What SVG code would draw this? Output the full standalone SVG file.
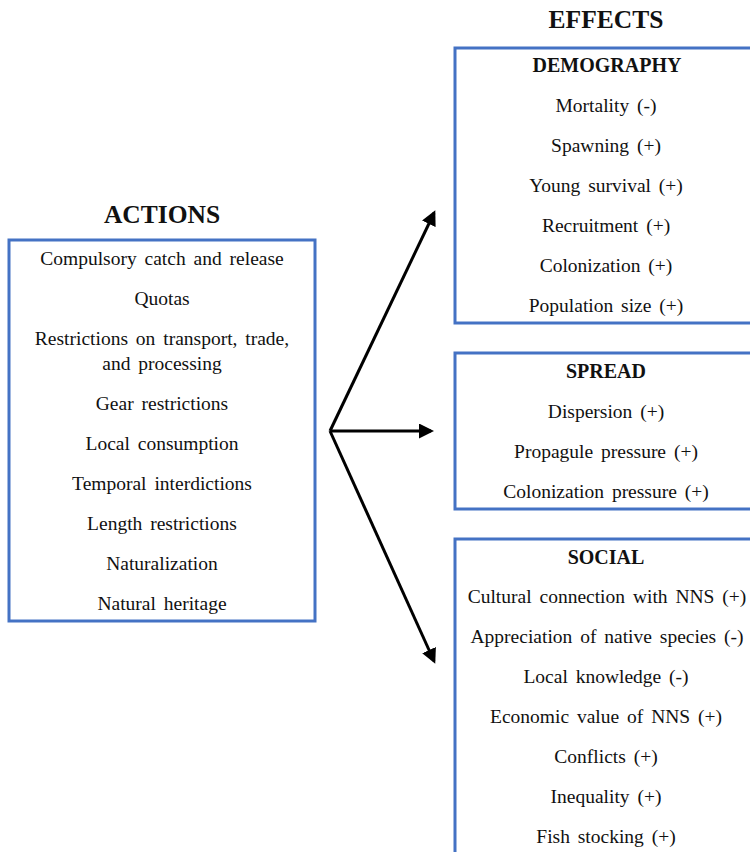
<svg xmlns="http://www.w3.org/2000/svg" width="750" height="852" viewBox="0 0 750 852">
<style>
.box{fill:#fff;stroke:#4472C4;stroke-width:3}
.t{font-family:"Liberation Serif","Times New Roman",serif;font-size:19.5px;fill:#111;text-anchor:middle;word-spacing:3px}
.h{font-family:"Liberation Serif","Times New Roman",serif;font-size:20px;font-weight:bold;fill:#111;text-anchor:middle}
.big{font-family:"Liberation Serif","Times New Roman",serif;font-size:25.5px;font-weight:bold;fill:#111;text-anchor:middle}
.c{stroke:#000;stroke-width:3;fill:none;marker-end:url(#ah)}
</style>
<defs>
<marker id="ah" markerWidth="5" markerHeight="5" refX="4" refY="2.5" orient="auto" markerUnits="strokeWidth">
<path d="M0,0 L5,2.5 L0,5 z" fill="#000"/>
</marker>
</defs>
<rect width="750" height="852" fill="#fff"/>
<text class="big" x="162" y="223">ACTIONS</text>
<text class="big" x="606" y="28">EFFECTS</text>
<g id="actions">
<rect class="box" x="9" y="240" width="306" height="381"/>
<text class="t" x="162" y="265">Compulsory catch and release</text>
<text class="t" x="162" y="305">Quotas</text>
<text class="t" x="162" y="345">Restrictions on transport, trade,</text>
<text class="t" x="162" y="370">and processing</text>
<text class="t" x="162" y="410">Gear restrictions</text>
<text class="t" x="162" y="450">Local consumption</text>
<text class="t" x="162" y="490">Temporal interdictions</text>
<text class="t" x="162" y="530">Length restrictions</text>
<text class="t" x="162" y="570">Naturalization</text>
<text class="t" x="162" y="610">Natural heritage</text>
</g>
<g id="demography">
<rect class="box" x="455" y="48" width="300" height="275"/>
<text class="h" x="607" y="72">DEMOGRAPHY</text>
<text class="t" x="606" y="112">Mortality (-)</text>
<text class="t" x="606" y="152">Spawning (+)</text>
<text class="t" x="606" y="192">Young survival (+)</text>
<text class="t" x="606" y="232">Recruitment (+)</text>
<text class="t" x="606" y="272">Colonization (+)</text>
<text class="t" x="606" y="312">Population size (+)</text>
</g>
<g id="spread">
<rect class="box" x="455" y="353" width="300" height="156"/>
<text class="h" x="606" y="378">SPREAD</text>
<text class="t" x="606" y="418">Dispersion (+)</text>
<text class="t" x="606" y="458">Propagule pressure (+)</text>
<text class="t" x="606" y="498">Colonization pressure (+)</text>
</g>
<g id="social">
<rect class="box" x="455" y="539" width="300" height="330"/>
<text class="h" x="606" y="564">SOCIAL</text>
<text class="t" x="607" y="603">Cultural connection with NNS (+)</text>
<text class="t" x="607" y="643">Appreciation of native species (-)</text>
<text class="t" x="606" y="683">Local knowledge (-)</text>
<text class="t" x="606" y="723">Economic value of NNS (+)</text>
<text class="t" x="606" y="763">Conflicts (+)</text>
<text class="t" x="606" y="803">Inequality (+)</text>
<text class="t" x="606" y="843">Fish stocking (+)</text>
</g>
<g id="connectors">
<line class="c" x1="330" y1="431" x2="434" y2="213"/>
<line class="c" x1="330" y1="431" x2="431" y2="431"/>
<line class="c" x1="330" y1="431" x2="434" y2="661"/>
</g>
</svg>
